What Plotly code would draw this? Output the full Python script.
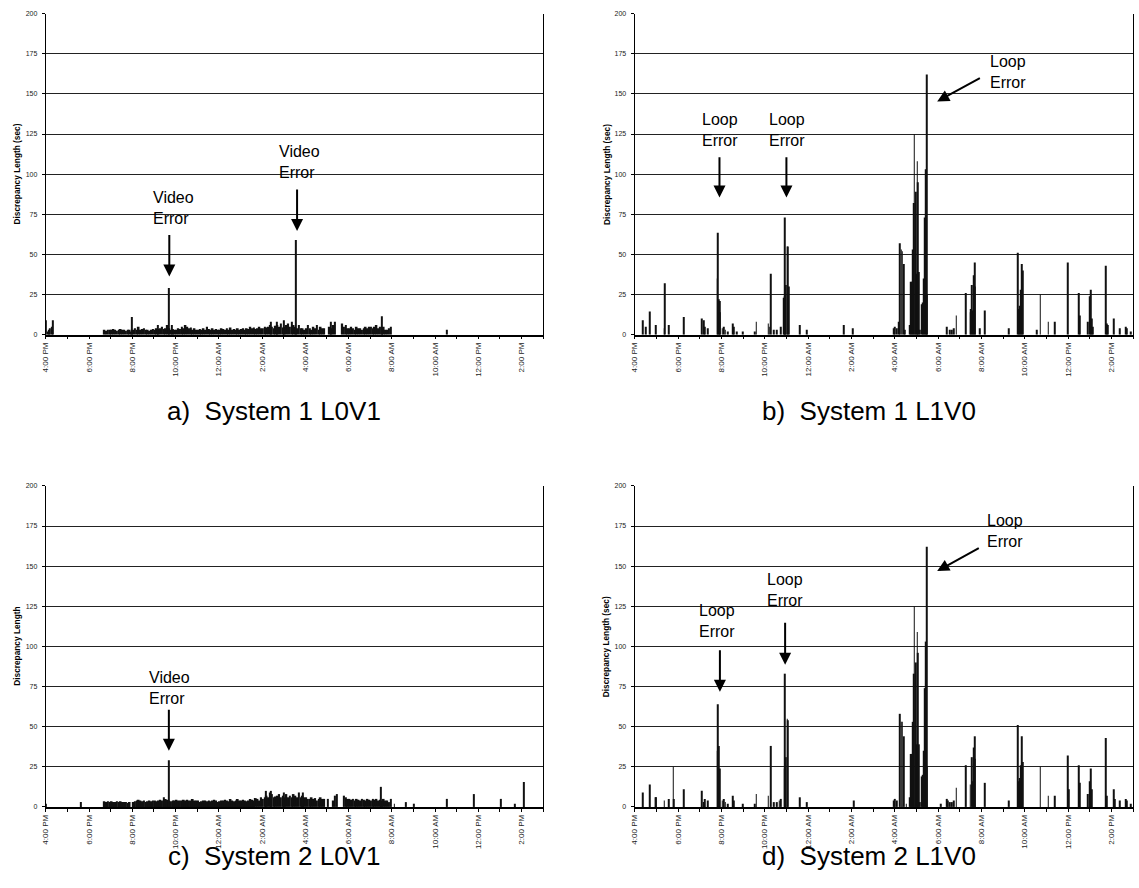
import plotly.graph_objects as go

# ---------------------------------------------------------------- data ----
# x values are hours after 4:00 PM on the first day
TICK_HOURS = [0, 2, 4, 6, 8, 10, 12, 14, 16, 18, 20, 22]
TICK_LABELS = ["4:00 PM", "6:00 PM", "8:00 PM", "10:00 PM", "12:00 AM", "2:00 AM",
               "4:00 AM", "6:00 AM", "8:00 AM", "10:00 AM", "12:00 PM", "2:00 PM"]

# dense activity, 5-minute bins, one row per clock hour starting at 6:00 PM
DENSE_START_HOUR = 2.0
A_DENSE = [
    [0, 0, 0, 0, 0, 0, 0, 0, 3, 2.5, 3, 3],            # 6 PM
    [3, 3.5, 3, 2.5, 3, 3.5, 3, 3, 2.5, 3, 3, 2],      # 7 PM
    [3, 4, 3, 5, 3, 3.5, 4, 3, 3, 2.5, 3, 3.5],        # 8 PM
    [3, 4, 3.5, 4, 5, 3.5, 4, 6, 4, 3, 3.5, 3],        # 9 PM
    [3, 4, 3.5, 5, 4, 6, 5, 4, 4.5, 3, 4, 3],          # 10 PM
    [3, 3.5, 3, 4, 3, 5, 3.5, 3, 4, 3, 3.5, 3],        # 11 PM
    [3, 4, 3.5, 3, 4, 3, 4.5, 3, 3.5, 3, 4, 3],        # 12 AM
    [3.5, 4, 3, 4, 3.5, 5, 4, 4.5, 3.5, 4, 5, 4],      # 1 AM
    [4, 5, 4.5, 5, 6, 5, 4, 5.5, 6, 5, 7, 4.5],        # 2 AM
    [5, 6, 7, 5, 8, 6, 5, 4, 6, 4, 4, 3],              # 3 AM
    [4, 6, 4, 3, 5, 4, 6, 3, 5, 4, 4, 0],              # 4 AM
    [0, 5, 4, 6, 8, 0, 0, 0, 7, 5, 6, 4],              # 5 AM
    [4, 5, 4, 3, 5, 4, 4, 3, 4, 5, 4, 5],              # 6 AM
    [5, 4, 5, 6, 4, 5, 4, 5, 3, 3, 4, 5],              # 7 AM
]
A_SPIKE_HOURS = [0.0, 0.08, 0.14, 0.2, 0.26, 0.32, 3.98, 5.2, 5.69, 5.82, 10.4, 10.7,
                 11.0, 11.56, 13.2, 15.54, 18.55]
A_SPIKE_VALUES = [9, 2, 3, 4, 5, 9, 11, 6, 29, 6, 8, 8, 9, 59, 8, 11.5, 3]

C_DENSE = [
    [0, 0, 0, 0, 0, 0, 0, 0, 3.5, 3, 3.5, 3],          # 6 PM
    [3.5, 3, 3, 3.5, 3, 3.5, 3, 3, 3, 2.5, 3, 0],      # 7 PM
    [3, 3.5, 4, 4.5, 4, 3.5, 4, 3, 3.5, 4, 3.5, 4],    # 8 PM
    [4, 3.5, 4, 4.5, 4, 6, 5, 4.5, 4, 3.5, 4, 4],      # 9 PM
    [4.5, 4, 4, 4, 4.5, 4, 4.5, 4, 4, 5, 4, 4],        # 10 PM
    [4, 3, 3.5, 4, 4, 3.5, 4, 3.5, 4, 4.5, 4, 3],      # 11 PM
    [3.5, 4, 4, 4.5, 4, 3.5, 5, 4, 3.5, 4, 5, 4],      # 12 AM
    [4, 4.5, 4, 3.5, 4, 5, 4.5, 4, 5.5, 5, 4, 6],      # 1 AM
    [5, 6, 7, 6, 9, 8, 6, 6.5, 7, 8, 6, 7],            # 2 AM
    [6, 8, 6, 7, 6, 8, 7, 6, 9, 6, 7, 6],              # 3 AM
    [6, 5, 5, 6, 5, 5.5, 4, 5, 6, 5, 5, 0],            # 4 AM
    [5, 0, 0, 4, 7, 8, 0, 0, 0, 7, 6, 5],              # 5 AM
    [5, 4.5, 5, 4, 5, 4.5, 4, 5, 4.5, 4, 5, 4.5],      # 6 AM
    [4, 5, 4.5, 5, 4, 4.5, 4, 5, 4, 4, 3, 5],          # 7 AM
]
C_SPIKE_HOURS = [0.0, 1.6, 5.69, 10.16, 10.4, 11.0, 11.9, 15.48, 16.12, 16.66, 17.04,
                 18.55, 19.79, 21.06, 21.68, 22.09]
C_SPIKE_VALUES = [2, 3, 29, 10, 10, 9, 9, 12.5, 2, 3, 2, 5, 8, 5, 2, 15.5]

B_SPIKE_HOURS = [0.38, 0.50, 0.70, 0.95, 1.36, 1.38, 1.55, 2.25, 3.11, 3.18, 3.24, 3.36,
                 3.81, 3.83, 3.88, 3.91, 3.94, 4.04, 4.11, 4.18, 4.28, 4.51, 4.56, 4.71,
                 4.99, 5.54, 5.61, 6.16, 6.21, 6.29, 6.41, 6.57, 6.74, 6.87, 6.91, 6.94,
                 6.99, 7.04, 7.07, 7.10, 7.60, 7.94, 9.63, 10.07, 11.95, 12.01, 12.10,
                 12.18, 12.23, 12.30, 12.35, 12.40, 12.45, 12.70, 12.73, 12.78, 12.83,
                 12.86, 12.90, 12.95, 12.98, 13.01, 13.04, 13.08, 13.11, 13.16, 13.26,
                 13.31, 13.36, 13.39, 13.43, 13.46, 13.49, 14.39, 14.53, 14.64, 14.73,
                 14.84, 15.29, 15.49, 15.52, 15.56, 15.61, 15.66, 15.69, 15.72, 15.94,
                 16.16, 17.25, 17.67, 17.72, 17.77, 17.82, 17.87, 17.92, 18.55, 18.72,
                 19.09, 19.38, 20.00, 20.50, 20.53, 20.92, 21.01, 21.06, 21.11, 21.15,
                 21.76, 21.80, 21.85, 22.11, 22.38, 22.66, 22.71, 22.88]
B_SPIKE_VALUES = [9, 5, 14.5, 6, 4, 32, 6, 11, 10, 9, 5, 4,
                  35, 63.5, 22, 21, 14, 4, 5, 3, 2, 7, 5, 2,
                  2, 2, 8, 7, 5, 38, 3, 3, 5, 23, 24, 73,
                  31, 55, 55, 30, 6, 3, 6, 4, 4, 5, 4,
                  8, 57, 53, 52, 44, 3, 6, 33, 33, 53,
                  82, 125, 61, 89, 38, 108, 95, 39, 3, 19,
                  20, 35, 73, 103, 162, 25, 5, 3, 3, 4,
                  12, 26, 14, 16, 31, 15, 37, 45, 30, 4,
                  15, 4, 51, 16, 18, 28, 44, 40, 3, 25,
                  8, 8, 45, 26, 12, 8, 24, 28, 10, 5,
                  43, 7, 6, 10, 4, 5, 4, 2]

D_SPIKE_HOURS = [0.38, 0.68, 0.95, 0.98, 1.36, 1.55, 1.78, 1.81, 2.25, 3.11, 3.18, 3.24,
                 3.36, 3.81, 3.83, 3.88, 3.91, 4.04, 4.11, 4.18, 4.28, 4.51, 4.56, 4.99,
                 5.54, 5.61, 6.16, 6.29, 6.41, 6.57, 6.67, 6.74, 6.91, 6.94, 6.99, 7.04,
                 7.07, 7.60, 7.94, 10.10, 11.95, 12.01, 12.10, 12.23, 12.30, 12.35,
                 12.40, 12.53, 12.70, 12.73, 12.78, 12.83, 12.86, 12.90, 12.95, 12.98,
                 13.01, 13.04, 13.08, 13.11, 13.16, 13.26, 13.31, 13.36, 13.39, 13.43,
                 13.46, 13.49, 14.14, 14.39, 14.43, 14.53, 14.64, 14.73, 14.84, 15.29,
                 15.49, 15.56, 15.61, 15.66, 15.69, 15.72, 16.16, 17.25, 17.67, 17.72,
                 17.77, 17.82, 17.87, 17.92, 18.72, 19.09, 19.38, 20.00, 20.03, 20.50,
                 20.53, 20.92, 21.01, 21.06, 21.11, 21.76, 21.80, 22.11, 22.15, 22.38,
                 22.66, 22.71, 22.88]
D_SPIKE_VALUES = [9, 14, 6, 6, 4, 5, 25, 5, 11, 10, 3, 5,
                  4, 35, 64, 38, 24, 4, 5, 3, 2, 7, 4, 2,
                  2, 8, 7, 38, 3, 3, 4, 5, 24, 83, 31, 55,
                  54, 6, 3, 4, 4, 5, 4, 58, 53, 53,
                  44, 2, 6, 33, 33, 53, 83, 125, 61, 90,
                  39, 109, 96, 39, 3, 19, 20, 35, 74, 103,
                  162, 25, 2, 5, 4, 3, 3, 4, 12, 26,
                  14, 31, 16, 37, 44, 30, 15, 4, 51, 16,
                  18, 26, 44, 28, 25, 7, 7, 32, 11, 26,
                  15, 8, 16, 24, 11, 43, 7, 11, 5, 4,
                  5, 4, 2]

CAPTIONS = ["a)  System 1 L0V1", "b)  System 1 L1V0", "c)  System 2 L0V1", "d)  System 2 L1V0"]
Y_TITLES = ["Discrepancy Length (sec)", "Discrepancy Length (sec)",
            "Discrepancy Length", "Discrepancy Length (sec)"]

# ----------------------------------------------------------- layout ------
W, H = 1139, 888
FONT = "Arial, Liberation Sans, sans-serif"


def px(x):
    return x / W


def py(y):
    return 1 - y / H


X_LEFT = [px(42), px(541)]
X_RIGHT = [px(633), px(1133)]
Y_TOP = [py(333.3), py(9.7)]
Y_BOT = [py(809.3), py(485.7)]

panels = [
    dict(x="x", y="y", xd=X_LEFT, yd=Y_TOP, dense=A_DENSE,
         sh=A_SPIKE_HOURS, sv=A_SPIKE_VALUES),
    dict(x="x2", y="y2", xd=X_RIGHT, yd=Y_TOP, dense=None,
         sh=B_SPIKE_HOURS, sv=B_SPIKE_VALUES),
    dict(x="x3", y="y3", xd=X_LEFT, yd=Y_BOT, dense=C_DENSE,
         sh=C_SPIKE_HOURS, sv=C_SPIKE_VALUES),
    dict(x="x4", y="y4", xd=X_RIGHT, yd=Y_BOT, dense=None,
         sh=D_SPIKE_HOURS, sv=D_SPIKE_VALUES),
]

fig = go.Figure()
BIN = 1 / 12
for p in panels:
    if p["dense"] is not None:
        xs, ys = [], []
        for r, row in enumerate(p["dense"]):
            for c, v in enumerate(row):
                xs.append(DENSE_START_HOUR + r + (c + 0.5) * BIN)
                ys.append(v)
        fig.add_trace(go.Bar(x=xs, y=ys, width=BIN, marker=dict(color="#111111", line=dict(width=0)),
                             xaxis=p["x"], yaxis=p["y"], hoverinfo="skip"))
    fig.add_trace(go.Bar(x=p["sh"], y=p["sv"], width=0.04,
                         marker=dict(color="#111111", line=dict(width=0)),
                         xaxis=p["x"], yaxis=p["y"]))

layout = dict(width=W, height=H, margin=dict(l=0, r=0, t=0, b=0),
              paper_bgcolor="white", plot_bgcolor="white", showlegend=False,
              barmode="overlay", font=dict(family=FONT, color="black"))

for i, p in enumerate(panels):
    sfx = "" if i == 0 else str(i + 1)
    layout["xaxis" + sfx] = dict(
        domain=p["xd"], anchor=p["y"], range=[0, 23],
        tickmode="array", tickvals=TICK_HOURS, ticktext=TICK_LABELS,
        tickangle=-90, ticks="outside", ticklen=3, tickwidth=1, tickcolor="black",
        tickfont=dict(size=8, color="#222222"),
        showline=True, linecolor="black", linewidth=1.5,
        showgrid=False, zeroline=False, fixedrange=True,
        minor=dict(dtick=1, tick0=0, ticks="outside", ticklen=3, tickcolor="black",
                   showgrid=False),
    )
    layout["yaxis" + sfx] = dict(
        domain=p["yd"], anchor=p["x"], range=[0, 200], dtick=25, tick0=0,
        ticks="outside", ticklen=3, tickcolor="black",
        tickfont=dict(size=7, color="#222222"), ticklabelstandoff=3,
        showline=True, linecolor="black", linewidth=1.2, mirror=True,
        showgrid=True, gridcolor="#222222", gridwidth=1,
        zeroline=False, fixedrange=True,
    )

fig.update_layout(**layout)

# ------------------------------------------------------ annotations ------
anns = []
# axis titles and captions (paper positions)
title_pos = [(13.4, 171.5), (605, 171.5), (13.4, 647.5), (605, 647.5)]
caption_pos = [(270.5, 410), (868, 410), (270.5, 859), (868, 859)]
for i in range(4):
    tx, ty = title_pos[i]
    anns.append(dict(x=px(tx), y=py(ty), xref="paper", yref="paper", showarrow=False,
                     text="<b>" + Y_TITLES[i] + "</b>", textangle=-90,
                     font=dict(size=8.3, family=FONT, color="black"),
                     xanchor="center", yanchor="middle"))
    cx, cy = caption_pos[i]
    anns.append(dict(x=px(cx), y=py(cy), xref="paper", yref="paper", showarrow=False,
                     text=CAPTIONS[i], font=dict(size=26, family=FONT, color="black"),
                     xanchor="center", yanchor="middle"))

# callouts: (axis suffix, label, text x, text y, tail x, tail y, tip x, tip y)
callouts = [
    ("", "Video<br>Error", 5.92, 79.1, 5.71, 63.0, 5.71, 36.2),
    ("", "Video<br>Error", 11.75, 107.8, 11.62, 91.4, 11.62, 64.6),
    ("2", "Loop<br>Error", 3.92, 127.5, 3.91, 111.4, 3.91, 85.5),
    ("2", "Loop<br>Error", 7.05, 127.5, 7.0, 111.4, 7.0, 85.5),
    ("2", "Loop<br>Error", 17.23, 163.4, 16.0, 160.4, 13.96, 145.3),
    ("3", "Video<br>Error", 5.73, 74.0, 5.69, 61.4, 5.69, 35.0),
    ("4", "Loop<br>Error", 3.79, 115.7, 3.93, 98.5, 3.93, 71.7),
    ("4", "Loop<br>Error", 6.94, 135.3, 6.94, 115.6, 6.94, 88.6),
    ("4", "Loop<br>Error", 17.11, 172.2, 15.95, 161.8, 13.96, 146.9),
]
for sfx, label, tx, ty, ax, ay, hx, hy in callouts:
    anns.append(dict(x=tx, y=ty, xref="x" + sfx, yref="y" + sfx, text=label,
                     showarrow=False, align="left",
                     font=dict(size=16, family=FONT, color="black"),
                     xanchor="center", yanchor="middle"))
    anns.append(dict(x=hx, y=hy, ax=ax, ay=ay, xref="x" + sfx, yref="y" + sfx,
                     axref="x" + sfx, ayref="y" + sfx, text="", showarrow=True,
                     arrowhead=2, arrowsize=1.2, arrowwidth=2, arrowcolor="black"))

fig.update_layout(annotations=anns)
fig.write_html("out.html", config={"displayModeBar": False},
               post_script="document.body.style.margin='0';document.body.style.overflow='hidden';")
